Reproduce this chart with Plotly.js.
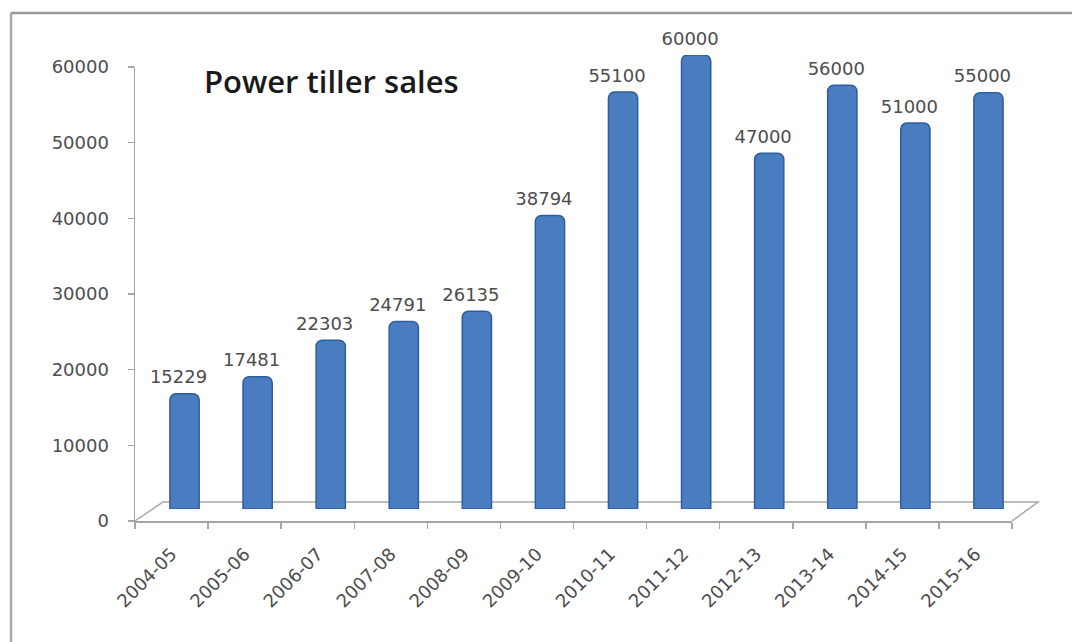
<!DOCTYPE html>
<html>
<head>
<meta charset="utf-8">
<script src="https://cdn.plot.ly/plotly-3.0.1.min.js"></script>
<style>html,body{margin:0;padding:0;background:#fff;overflow:hidden}#chart{width:1072px;height:642px}</style>
</head>
<body>
<div id="chart"></div>
<script>
// Data
var years = ["2004-05","2005-06","2006-07","2007-08","2008-09","2009-10","2010-11","2011-12","2012-13","2013-14","2014-15","2015-16"];
var sales = [15229,17481,22303,24791,26135,38794,55100,60000,47000,56000,51000,55000];
var yTicks = [0,10000,20000,30000,40000,50000,60000];
var chartTitle = "Power tiller sales";

var W = 1072, H = 642;
function px(x){return x/W;}
function py(y){return 1 - y/H;}
var catRange = [-0.5, years.length - 0.5];

var tickFont = {family:"DejaVu Sans", size:18, color:"#4d4d4d"};

var bars = {
  type:"bar", x:years, y:sales, xaxis:"x2", yaxis:"y2",
  width:0.4,
  marker:{color:"#4a7cc0", line:{color:"#2f5e9e", width:1.5}, cornerradius:6},
  cliponaxis:false, hoverinfo:"x+y", showlegend:false
};
var labels = {
  type:"scatter", mode:"text", x:years, y:sales, xaxis:"x3", yaxis:"y3",
  text:sales.map(String), textposition:"top center",
  textfont:{family:"DejaVu Sans", size:18, color:"#4d4d4d"},
  cliponaxis:false, hoverinfo:"skip", showlegend:false
};
// invisible trace to anchor main category/value axes
var base = {
  type:"scatter", mode:"none", x:years, y:sales, xaxis:"x", yaxis:"y",
  hoverinfo:"skip", showlegend:false
};

var layout = {
  width:W, height:H, autosize:false,
  margin:{l:0,r:0,t:0,b:0,pad:0},
  paper_bgcolor:"#ffffff", plot_bgcolor:"rgba(0,0,0,0)",
  title:{text:chartTitle, x:px(204), xanchor:"left", xref:"paper",
         y:py(82), yanchor:"middle", yref:"paper",
         font:{family:"Open Sans", size:31, weight:600, color:"#1a1a1a"}},
  xaxis:{domain:[px(135),px(1012)], anchor:"y", type:"category", range:catRange,
         showline:true, linecolor:"#a6a6a6", linewidth:1.5,
         ticks:"outside", tickson:"boundaries", ticklen:6, tickcolor:"#a6a6a6", tickwidth:1.5,
         tickangle:-45, tickfont:tickFont, ticklabelstandoff:14,
         showgrid:false, zeroline:false, fixedrange:true},
  yaxis:{domain:[py(521),py(67)], anchor:"x", range:[0,60000],
         tickvals:yTicks, ticktext:yTicks.map(String),
         showline:true, linecolor:"#a6a6a6", linewidth:1.5,
         ticks:"outside", ticklen:6, tickcolor:"#a6a6a6", tickwidth:1.5,
         tickfont:tickFont, ticklabelstandoff:15,
         showgrid:false, zeroline:false, fixedrange:true},
  xaxis2:{domain:[px(148),px(1025)], anchor:"y2", type:"category", range:catRange, visible:false, fixedrange:true},
  yaxis2:{domain:[py(509),py(55)], anchor:"x2", range:[0,60000], visible:false, fixedrange:true},
  xaxis3:{domain:[px(142),px(1019)], anchor:"y3", type:"category", range:catRange, visible:false, fixedrange:true},
  yaxis3:{domain:[py(503),py(49)], anchor:"x3", range:[0,60000], visible:false, fixedrange:true},
  shapes:[
    {type:"line", xref:"paper", yref:"paper", x0:px(11), x1:1, y0:py(13), y1:py(13),
     line:{color:"#9a9a9a", width:2.5}, layer:"below"},
    {type:"line", xref:"paper", yref:"paper", x0:px(11), x1:px(11), y0:py(13), y1:0,
     line:{color:"#a8a8a8", width:2.5}, layer:"below"},
    {type:"path", xref:"paper", yref:"paper",
     path:"M "+px(135)+","+py(521)+" L "+px(163)+","+py(502)+" L "+px(1038)+","+py(502)+" L "+px(1012)+","+py(521),
     line:{color:"#a6a6a6", width:1.5}, layer:"below"}
  ],
  showlegend:false
};

Plotly.newPlot("chart",[base,bars,labels],layout,{displayModeBar:false,staticPlot:true});
</script>
</body>
</html>
